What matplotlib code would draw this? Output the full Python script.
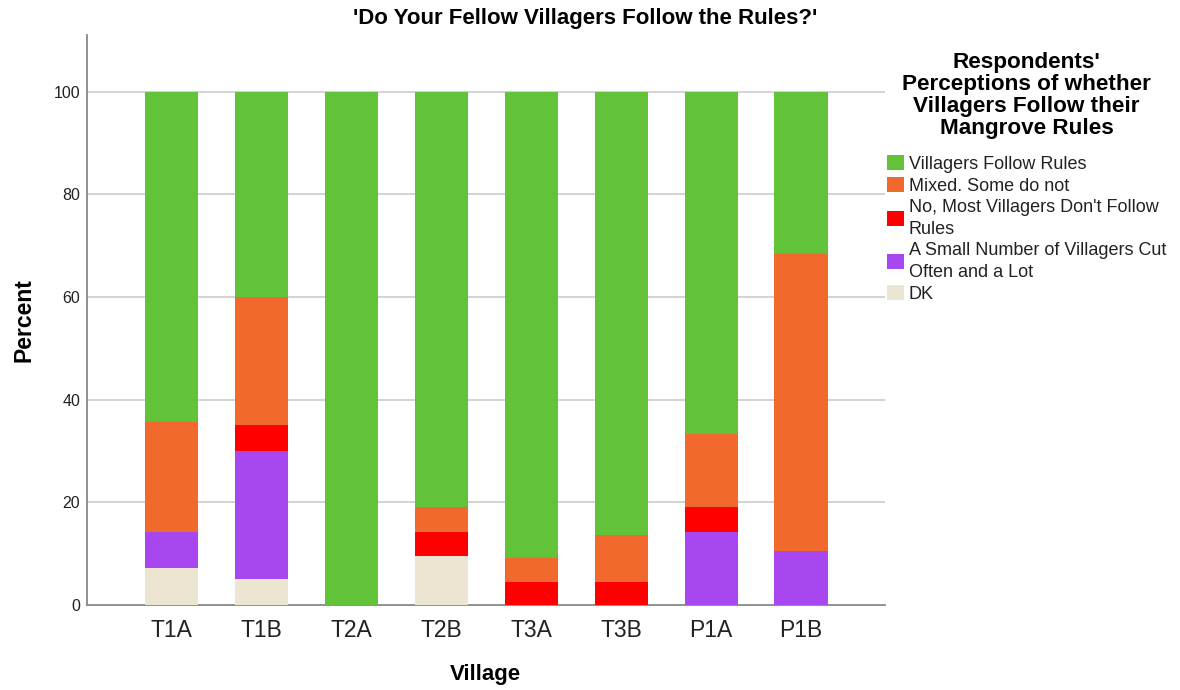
import numpy as np
import matplotlib.pyplot as plt
from matplotlib.patches import Patch

plt.rcParams["font.family"] = ["Liberation Sans", "DejaVu Sans"]

villages = ["T1A", "T1B", "T2A", "T2B", "T3A", "T3B", "P1A", "P1B"]
categories = ["Villagers Follow Rules", "Mixed. Some do not",
              "No, Most Villagers Don't Follow\nRules",
              "A Small Number of Villagers Cut\nOften and a Lot", "DK"]
follow = [64.29, 40.0, 100.0, 80.95, 90.91, 86.36, 66.67, 31.58]
mixed = [21.43, 25.0, 0.0, 4.76, 4.55, 9.09, 14.29, 57.89]
no_most = [0.0, 5.0, 0.0, 4.76, 4.55, 4.55, 4.76, 0.0]
small_num = [7.14, 25.0, 0.0, 0.0, 0.0, 0.0, 14.29, 10.53]
dk = [7.14, 5.0, 0.0, 9.52, 0.0, 0.0, 0.0, 0.0]

colors = ["#62c33a", "#f1692c", "#ff0000", "#a846ef", "#ebe5d2"]

fig = plt.figure(figsize=(11.8, 6.9), dpi=100)
ax = fig.add_axes([0.0737, 0.123, 0.676, 0.826])

x = np.arange(len(villages))
stack = [dk, small_num, no_most, mixed, follow]
stack_colors = colors[::-1]
bottom = np.zeros(len(villages))
for vals, c in zip(stack, stack_colors):
    ax.bar(x, vals, width=0.59, bottom=bottom, color=c, zorder=3)
    bottom += np.array(vals)

ax.set_xlim(-0.94, 7.93)
ax.set_ylim(0, 111)
ax.set_yticks([0, 20, 40, 60, 80, 100])
ax.set_xticks(x)
ax.set_xticklabels(villages, fontsize=16.5, color="#222222")
ax.tick_params(axis="y", labelsize=11.5, colors="#222222", length=0, pad=5)
ax.tick_params(axis="x", length=0, pad=10)
for gy in [20, 40, 60, 80, 100]:
    ax.axhline(gy, color="#d0d0d0", lw=1.3, zorder=1)
for s in ["top", "right"]:
    ax.spines[s].set_visible(False)
for s in ["left", "bottom"]:
    ax.spines[s].set_color("#888888")
    ax.spines[s].set_linewidth(1.3)

ax.set_xlabel("Village", fontsize=16, fontweight="bold", labelpad=16)
ax.set_ylabel("Percent", fontsize=16.5, fontweight="bold", labelpad=13)
fig.text(0.496, 0.973, "'Do Your Fellow Villagers Follow the Rules?'", fontsize=16,
         fontweight="bold", ha="center", va="center")

handles = [Patch(facecolor=c, label=l) for c, l in zip(colors, categories)]
leg = fig.legend(handles=handles, loc="upper left", bbox_to_anchor=(0.738, 0.948),
                 frameon=False, fontsize=13, handlelength=0.95, handleheight=0.95,
                 handletextpad=0.25, labelspacing=0.22,
                 title="Respondents'\nPerceptions of whether\nVillagers Follow their\nMangrove Rules",
                 title_fontproperties={"weight": "bold", "size": 16.2})
leg.get_title().set_multialignment("center")
leg.get_title().set_linespacing(1.07)
for t in leg.get_texts():
    t.set_linespacing(1.38)
    t.set_color("#222222")
leg._legend_box.align = "center"
leg._legend_box.sep = 11

fig.savefig("out.png", dpi=100)
